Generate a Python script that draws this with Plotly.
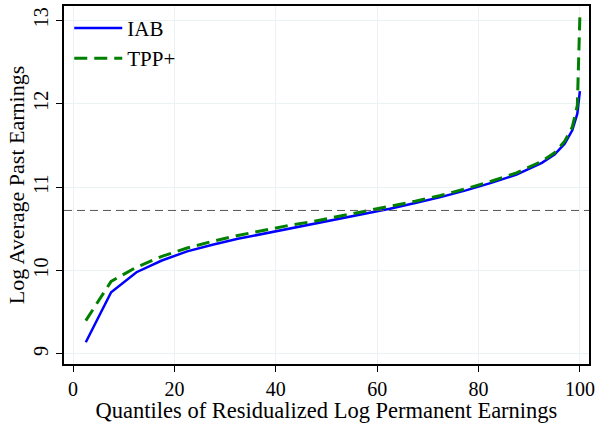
import plotly.graph_objects as go

quantiles = [2.5, 7.5, 12.5, 17.5, 22.5, 27.5, 32.5, 37.5, 42.5, 47.5, 52.5, 57.5,
             62.5, 67.5, 72.5, 77.5, 82.5, 87.5, 92.5, 95, 97, 98.5, 99.5, 100]
iab = [9.14, 9.74, 9.98, 10.12, 10.23, 10.31, 10.38, 10.44, 10.50, 10.56, 10.62, 10.68,
       10.74, 10.81, 10.88, 10.96, 11.05, 11.15, 11.29, 11.39, 11.52, 11.68, 11.88, 12.15]
tpp = [9.40, 9.87, 10.04, 10.17, 10.27, 10.35, 10.42, 10.48, 10.54, 10.59, 10.65, 10.71,
       10.77, 10.83, 10.90, 10.98, 11.07, 11.17, 11.31, 11.41, 11.55, 11.72, 11.98, 13.05]
ref_level = 10.72
x_ticks = [0, 20, 40, 60, 80, 100]
y_ticks = [9, 10, 11, 12, 13]

FONT = "Liberation Serif"

fig = go.Figure()
fig.add_trace(go.Scatter(x=quantiles, y=iab, mode="lines", name="IAB",
                         line=dict(color="#0000ff", width=2.5)))
fig.add_trace(go.Scatter(x=quantiles, y=tpp, mode="lines", name="TPP+",
                         line=dict(color="#008000", width=3, dash="13px,7px")))
fig.add_hline(y=ref_level, line_dash="8px,5px", line_color="#555555", line_width=1)

axis_common = dict(
    showline=True, linecolor="black", linewidth=1.5, mirror=True,
    ticks="outside", ticklen=6, tickcolor="black",
    showgrid=True, gridcolor="#eaf2f3", gridwidth=1.2,
    zeroline=False, automargin=False, ticklabeloverflow="allow",
    tickfont=dict(family=FONT, size=20, color="black"),
)

fig.update_layout(
    width=596, height=423,
    paper_bgcolor="white", plot_bgcolor="white",
    margin=dict(l=64, r=7, t=6, b=59, autoexpand=False),
    font=dict(family=FONT, size=20, color="black"),
    xaxis=dict(axis_common, range=[-1.8, 101.8], tickvals=x_ticks,
               title=dict(text="Quantiles of Residualized Log Permanent Earnings",
                          font=dict(family=FONT, size=22.5), standoff=2)),
    yaxis=dict(axis_common, range=[8.88, 13.17], tickvals=y_ticks, tickangle=-90,
               title=dict(text="Log Average Past Earnings",
                          font=dict(family=FONT, size=22), standoff=0)),
    legend=dict(x=0.01, y=0.995, xanchor="left", yanchor="top",
                bgcolor="rgba(0,0,0,0)", font=dict(family=FONT, size=21),
                itemwidth=48, tracegroupgap=0),
    showlegend=True,
)

# drop the page's default body margin so the figure sits at the window's corner
fig.write_html("out.html", config={"displayModeBar": False},
               post_script="document.body.style.margin='0';")
